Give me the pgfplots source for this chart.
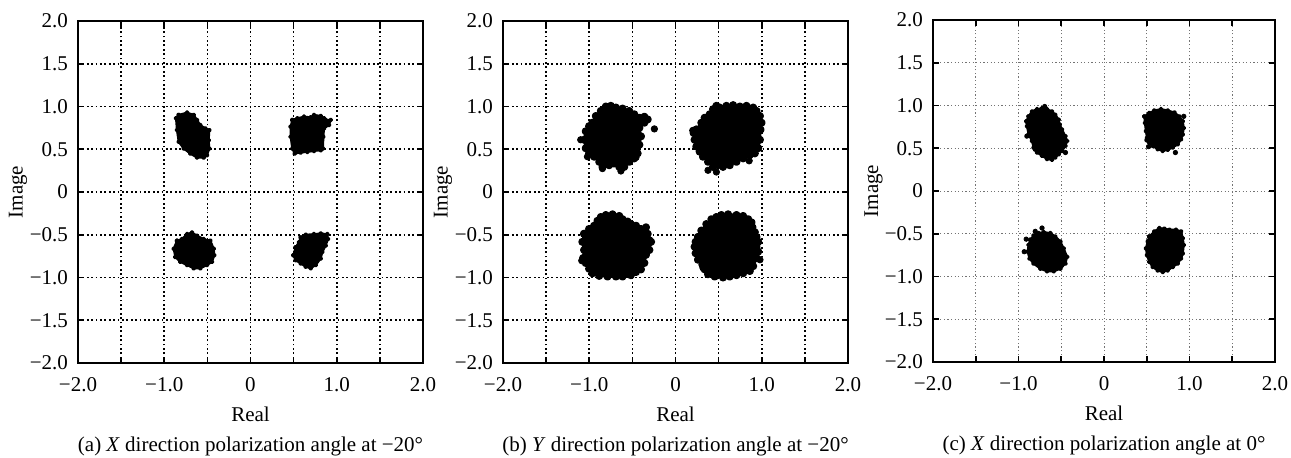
\documentclass[border=0pt]{standalone}
\usepackage{fontspec}
\setmainfont{Liberation Serif}
\usepackage{pgfplots}
\pgfplotsset{compat=1.18}
\newcommand{\fs}{\fontsize{10.5}{12}\selectfont}
\pgfplotsset{
  constax/.style={
    scale only axis, width=172.5pt, height=171pt, anchor=south west,
    xmin=-2, xmax=2, ymin=-2, ymax=2,
    xtick={-2,-1.5,...,2}, ytick={-2,-1.5,...,2},
    xticklabels={−2.0,,−1.0,,0,,1.0,,2.0},
    yticklabels={−2.0,−1.5,−1.0,−0.5,0,0.5,1.0,1.5,2.0},
    ticklabel style={font=\fs},
    xticklabel style={yshift=-3.5pt},
    yticklabel style={xshift=-1.5pt},
    axis line style={line width=0.9pt},
    tick style={black, line width=0.8pt},
    major tick length=3pt,
    grid=major,
    xlabel={Real}, ylabel={Image},
    label style={font=\fs},
    xlabel style={at={(axis description cs:0.5,-0.1716)}, anchor=base},
    ylabel style={at={(axis description cs:-0.174,0.5)}, anchor=center},
    clip mode=individual,
  },
  gridA/.style={major grid style={black, line width=0.8pt, dash pattern=on 0.9pt off 1.3pt}},
  gridB/.style={major grid style={black!55, line width=0.5pt, dash pattern=on 0.6pt off 1.2pt}},
  clusA/.style={fill=black, draw=black, line width=1pt, line join=round, mark=*, mark size=0.7pt, mark options={solid}},
  clusB/.style={fill=black, draw=black, line width=1.2pt, line join=round, mark=*, mark size=1.4pt, mark options={solid}},
  outA/.style={only marks, mark=*, mark size=1.1pt, black},
  outB/.style={only marks, mark=*, mark size=1.6pt, black},
}
\begin{document}
\begin{tikzpicture}
\path[use as bounding box] (0,0) rectangle (645.5pt,228.5pt);
% ---------------- (a)
\begin{axis}[constax, gridA, at={(39pt,47pt)}]
\addplot[clusA] coordinates {
(-0.833,0.902) (-0.736,0.929) (-0.659,0.902) (-0.620,0.843) (-0.581,0.783)
(-0.523,0.744) (-0.477,0.724) (-0.484,0.606) (-0.477,0.508) (-0.504,0.429)
(-0.543,0.402) (-0.620,0.402) (-0.698,0.449) (-0.775,0.508) (-0.833,0.587)
(-0.853,0.724) (-0.864,0.862) (-0.833,0.902)};
\addplot[clusA] coordinates {
(0.484,0.843) (0.543,0.862) (0.620,0.882) (0.698,0.874) (0.736,0.902)
(0.814,0.890) (0.853,0.862) (0.872,0.843) (0.930,0.843) (0.911,0.783)
(0.853,0.744) (0.845,0.646) (0.841,0.508) (0.814,0.488) (0.736,0.480)
(0.659,0.469) (0.581,0.461) (0.512,0.449) (0.484,0.508) (0.465,0.646)
(0.465,0.764) (0.484,0.843)};
\addplot[clusA] coordinates {
(-0.853,-0.569) (-0.795,-0.550) (-0.736,-0.492) (-0.678,-0.473) (-0.620,-0.511)
(-0.543,-0.550) (-0.465,-0.569) (-0.426,-0.664) (-0.419,-0.740) (-0.446,-0.817)
(-0.504,-0.855) (-0.581,-0.893) (-0.659,-0.893) (-0.736,-0.855) (-0.814,-0.817)
(-0.872,-0.760) (-0.891,-0.664) (-0.853,-0.569)};
\addplot[clusA] coordinates {
(0.581,-0.531) (0.640,-0.500) (0.736,-0.492) (0.814,-0.485) (0.891,-0.492)
(0.899,-0.550) (0.872,-0.626) (0.833,-0.702) (0.814,-0.779) (0.756,-0.855)
(0.698,-0.893) (0.640,-0.874) (0.581,-0.836) (0.523,-0.798) (0.496,-0.740)
(0.523,-0.645) (0.562,-0.588) (0.581,-0.531)};
\node[anchor=base, font=\fs] at (axis description cs:0.5,-0.2594) {(a) \textit{X} direction polarization angle at −20°};
\end{axis}
% ---------------- (b)
\begin{axis}[constax, gridA, at={(251.5pt,47pt)}]
\addplot[clusB] coordinates {
(-0.963,0.810) (-0.924,0.889) (-0.866,0.948) (-0.808,1.000) (-0.750,1.008)
(-0.691,0.988) (-0.614,0.976) (-0.536,0.948) (-0.478,0.909) (-0.419,0.869)
(-0.361,0.881) (-0.322,0.849) (-0.361,0.810) (-0.419,0.750) (-0.400,0.651)
(-0.419,0.552) (-0.439,0.452) (-0.478,0.393) (-0.536,0.353) (-0.594,0.294)
(-0.652,0.294) (-0.711,0.333) (-0.769,0.313) (-0.847,0.294) (-0.885,0.353)
(-0.944,0.413) (-1.002,0.452) (-1.041,0.512) (-1.060,0.611) (-1.041,0.710)
(-1.002,0.770) (-0.963,0.810)};
\addplot[outB] coordinates {(-0.245,0.738) (-1.099,0.611) (-1.021,0.413) (-0.847,0.274) (-0.633,0.246) (-0.458,0.405)};
\addplot[clusB] coordinates {
(0.241,0.730) (0.299,0.810) (0.338,0.869) (0.396,0.909) (0.435,0.968)
(0.474,1.008) (0.513,0.988) (0.590,1.008) (0.668,1.016) (0.746,1.000)
(0.823,1.008) (0.901,0.988) (0.940,0.948) (0.979,0.889) (0.998,0.810)
(0.986,0.730) (0.979,0.611) (0.959,0.512) (0.920,0.452) (0.862,0.433)
(0.784,0.393) (0.707,0.353) (0.629,0.313) (0.551,0.294) (0.493,0.313)
(0.435,0.294) (0.377,0.353) (0.318,0.413) (0.280,0.472) (0.241,0.532)
(0.221,0.611) (0.210,0.690) (0.241,0.730)};
\addplot[outB] coordinates {(0.854,0.365) (0.377,0.254) (0.474,0.234) (0.200,0.720)};
\addplot[clusB] coordinates {
(-1.060,-0.489) (-1.002,-0.432) (-0.944,-0.394) (-0.905,-0.337) (-0.866,-0.292)
(-0.808,-0.269) (-0.730,-0.261) (-0.652,-0.280) (-0.614,-0.318) (-0.555,-0.345)
(-0.517,-0.375) (-0.458,-0.394) (-0.400,-0.432) (-0.342,-0.413) (-0.322,-0.489)
(-0.283,-0.583) (-0.303,-0.678) (-0.342,-0.735) (-0.361,-0.830) (-0.400,-0.905)
(-0.458,-0.936) (-0.517,-0.973) (-0.614,-0.989) (-0.691,-0.989) (-0.788,-0.989)
(-0.885,-0.981) (-0.963,-0.951) (-1.002,-0.898) (-1.041,-0.830) (-1.072,-0.773)
(-1.060,-0.678) (-1.080,-0.583) (-1.060,-0.489)};
\addplot[outB] coordinates {(-1.087,-0.803) (-0.300,-0.560)};
\addplot[clusB] coordinates {
(0.260,-0.527) (0.299,-0.451) (0.357,-0.375) (0.416,-0.318) (0.474,-0.292)
(0.532,-0.269) (0.610,-0.261) (0.707,-0.269) (0.784,-0.280) (0.843,-0.318)
(0.882,-0.356) (0.893,-0.413) (0.920,-0.470) (0.940,-0.527) (0.959,-0.583)
(0.940,-0.640) (0.959,-0.697) (0.940,-0.773) (0.901,-0.867) (0.862,-0.924)
(0.784,-0.951) (0.707,-0.973) (0.629,-0.989) (0.551,-1.000) (0.454,-0.989)
(0.377,-0.962) (0.338,-0.905) (0.311,-0.848) (0.260,-0.792) (0.233,-0.716)
(0.221,-0.640) (0.233,-0.583) (0.260,-0.527)};
\addplot[outB] coordinates {(0.318,-0.886) (0.979,-0.792)};
\node[anchor=base, font=\fs] at (axis description cs:0.5,-0.2594) {(b) \textit{Y} direction polarization angle at −20°};
\end{axis}
% ---------------- (c)
\begin{axis}[constax, gridB, width=171pt, at={(466.5pt,47.5pt)}]
\addplot[clusA] coordinates {
(-0.882,0.873) (-0.843,0.931) (-0.784,0.958) (-0.725,0.969) (-0.667,0.958)
(-0.608,0.931) (-0.569,0.892) (-0.529,0.835) (-0.518,0.777) (-0.490,0.719)
(-0.451,0.642) (-0.431,0.585) (-0.451,0.527) (-0.490,0.469) (-0.529,0.431)
(-0.569,0.392) (-0.608,0.365) (-0.667,0.373) (-0.725,0.412) (-0.784,0.450)
(-0.824,0.508) (-0.843,0.585) (-0.882,0.662) (-0.902,0.758) (-0.910,0.815)
(-0.882,0.873)};
\addplot[outA] coordinates {(-0.694,0.988) (-0.902,0.642) (-0.451,0.450) (-0.804,0.488)};
\addplot[clusA] coordinates {
(0.471,0.873) (0.529,0.912) (0.588,0.942) (0.667,0.958) (0.745,0.942)
(0.824,0.919) (0.882,0.873) (0.922,0.815) (0.933,0.738) (0.922,0.662)
(0.902,0.604) (0.863,0.546) (0.804,0.508) (0.745,0.481) (0.686,0.469)
(0.627,0.488) (0.569,0.527) (0.529,0.565) (0.502,0.623) (0.490,0.700)
(0.478,0.796) (0.471,0.873)};
\addplot[outA] coordinates {(0.933,0.873) (0.502,0.596) (0.522,0.519) (0.835,0.450)};
\addplot[clusA] coordinates {
(-0.863,-0.571) (-0.824,-0.520) (-0.765,-0.492) (-0.706,-0.480) (-0.627,-0.492)
(-0.569,-0.532) (-0.510,-0.591) (-0.471,-0.671) (-0.431,-0.770) (-0.451,-0.849)
(-0.510,-0.909) (-0.588,-0.940) (-0.667,-0.940) (-0.745,-0.909) (-0.824,-0.849)
(-0.871,-0.790) (-0.894,-0.710) (-0.882,-0.631) (-0.863,-0.571)};
\addplot[outA] coordinates {(-0.725,-0.433) (-0.804,-0.472) (-0.910,-0.563) (-0.933,-0.710)};
\addplot[clusA] coordinates {
(0.529,-0.532) (0.588,-0.472) (0.647,-0.433) (0.706,-0.440) (0.765,-0.452)
(0.843,-0.452) (0.902,-0.472) (0.922,-0.552) (0.933,-0.631) (0.922,-0.730)
(0.902,-0.790) (0.863,-0.849) (0.804,-0.889) (0.745,-0.929) (0.686,-0.948)
(0.627,-0.929) (0.569,-0.889) (0.529,-0.829) (0.502,-0.750) (0.490,-0.671)
(0.510,-0.591) (0.529,-0.532)};
\node[anchor=base, font=\fs] at (axis description cs:0.5,-0.2594) {(c) \textit{X} direction polarization angle at 0°};
\end{axis}
\end{tikzpicture}
\end{document}
